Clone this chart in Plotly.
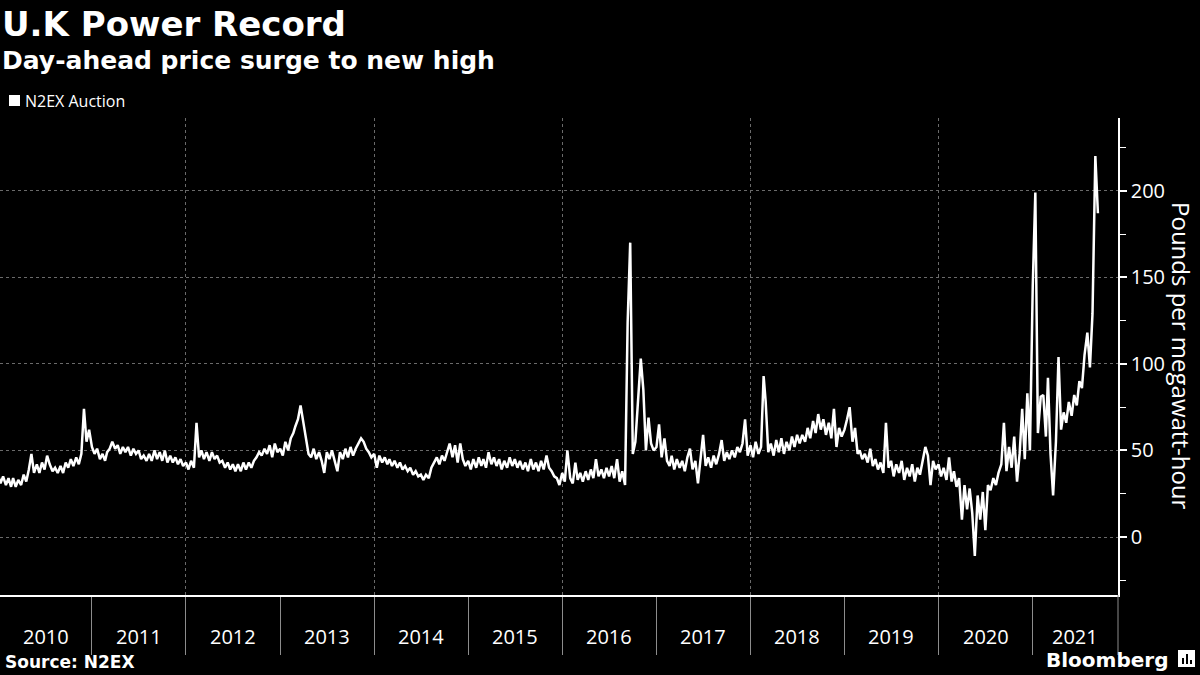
import plotly.graph_objects as go
import pandas as pd

# ---- data: N2EX day-ahead auction, GBP/MWh, sampled on the 1st, 11th, 21st of each month ----
years = [2010, 2011, 2012, 2013, 2014, 2015, 2016, 2017, 2018, 2019, 2020, 2021]

v2010 = [36, 31, 35, 30, 34, 29, 34, 29, 33, 30, 36, 32, 39, 48, 37, 42, 37, 43,
         39, 47, 42, 38, 40, 37, 41, 37, 43, 40, 45, 41, 46, 42, 48, 74, 55, 62]
v2011 = [52, 48, 51, 45, 48, 44, 49, 51, 55, 51, 53, 48, 52, 49, 52, 47, 51, 48,
         50, 45, 47, 44, 48, 44, 50, 45, 49, 44, 50, 43, 47, 43, 46, 42, 45, 41]
v2012 = [43, 39, 44, 40, 66, 46, 50, 45, 49, 44, 49, 45, 47, 43, 44, 40, 43, 39,
         42, 38, 42, 38, 43, 39, 43, 40, 44, 46, 49, 47, 51, 48, 53, 46, 54, 49]
v2013 = [51, 47, 55, 50, 57, 60, 64, 68, 76, 66, 57, 48, 46, 51, 45, 49, 44, 37,
         49, 45, 50, 43, 38, 49, 45, 51, 46, 52, 47, 51, 54, 57, 55, 51, 49, 46]
v2014 = [48, 40, 47, 43, 46, 42, 45, 41, 44, 40, 43, 39, 41, 38, 40, 36, 38, 35,
         36, 33, 36, 34, 40, 43, 46, 42, 47, 44, 49, 54, 46, 53, 43, 54, 45, 41]
v2015 = [44, 39, 45, 40, 46, 41, 45, 40, 49, 42, 46, 41, 45, 39, 44, 40, 46, 41,
         45, 40, 44, 39, 43, 38, 45, 39, 43, 38, 44, 39, 47, 40, 38, 35, 34, 30]
v2016 = [37, 32, 50, 34, 31, 43, 33, 37, 32, 38, 33, 39, 34, 45, 35, 39, 34, 40,
         35, 41, 34, 45, 32, 38, 30, 124, 170, 48, 55, 79, 103, 85, 50, 69, 54, 50]
v2017 = [52, 65, 46, 57, 44, 41, 47, 39, 45, 40, 44, 38, 46, 51, 39, 44, 31, 45,
         59, 41, 46, 40, 47, 42, 48, 56, 44, 49, 45, 50, 46, 52, 49, 54, 68, 47]
v2018 = [53, 46, 55, 48, 52, 93, 78, 49, 54, 47, 56, 49, 57, 48, 55, 50, 58, 52,
         59, 54, 59, 55, 63, 57, 67, 60, 71, 62, 68, 59, 66, 57, 74, 52, 63, 58]
v2019 = [62, 68, 75, 55, 63, 48, 50, 45, 48, 43, 51, 41, 45, 39, 43, 37, 66, 40,
         44, 35, 42, 37, 44, 33, 40, 35, 42, 32, 40, 36, 45, 52, 47, 30, 44, 39]
v2020 = [42, 35, 40, 33, 46, 32, 38, 29, 34, 10, 30, 16, 28, 14, -11, 24, 10, 26,
         4, 30, 27, 34, 30, 37, 42, 66, 38, 52, 40, 58, 32, 48, 74, 45, 83, 50]
v2021 = [145, 199, 60, 81, 82, 58, 92, 48, 24, 55, 104, 62, 72, 66, 78, 70, 82, 76,
         90, 86, 105, 118, 98, 129, 220, 187]

series_by_year = dict(zip(years, [v2010, v2011, v2012, v2013, v2014, v2015,
                                  v2016, v2017, v2018, v2019, v2020, v2021]))
sample_days = [1, 11, 21]
year_labels = [str(y) for y in years]
x_range = ["2010-01-09", "2021-11-28"]
y_ticks = [0, 50, 100, 150, 200]
y_minor = [-25, 25, 75, 125, 175, 225]
y_range = [-33.5, 242]

dates, prices = [], []
for y in years:
    for i, v in enumerate(series_by_year[y]):
        dates.append(pd.Timestamp(y, i // 3 + 1, sample_days[i % 3]))
        prices.append(v)

# ---- geometry helpers (pixels -> paper) ----
W, H = 1200, 675
ML, MR, MT, MB = 0, 82, 118, 80
PW, PH = W - ML - MR, H - MT - MB


def px(x):
    return (x - ML) / PW


def py(y):
    return (H - MB - y) / PH


fig = go.Figure()
fig.add_trace(go.Scatter(x=dates, y=prices, mode="lines",
                         line=dict(color="white", width=2.5),
                         name="N2EX Auction", showlegend=False,
                         hovertemplate="%{x|%d %b %Y}: %{y}<extra></extra>"))

year_starts = [pd.Timestamp(y, 1, 1) for y in years]
grid_vals = [d for d in year_starts if d.year % 2 == 0 and d > pd.Timestamp(x_range[0])]
sep_vals = [d for d in year_starts if d > pd.Timestamp(x_range[0])]

annotations = []
r0, r1 = pd.Timestamp(x_range[0]), pd.Timestamp(x_range[1])
for y, lab in zip(years, year_labels):
    s = max(pd.Timestamp(y, 1, 1), r0)
    e = min(pd.Timestamp(y + 1, 1, 1), r1)
    mid = s + (e - s) / 2
    annotations.append(dict(x=mid, xref="x", y=py(636), yref="paper", text=lab,
                            showarrow=False, xanchor="center", yanchor="middle",
                            font=dict(family="Open Sans", size=20, color="white")))

annotations += [
    dict(x=px(0), y=py(24), xref="paper", yref="paper", text="<b>U.K Power Record</b>",
         showarrow=False, xanchor="left", yanchor="middle",
         font=dict(family="DejaVu Sans", size=34, color="white")),
    dict(x=px(0), y=py(60), xref="paper", yref="paper",
         text="<b>Day-ahead price surge to new high</b>",
         showarrow=False, xanchor="left", yanchor="middle",
         font=dict(family="DejaVu Sans", size=25, color="white")),
    dict(x=px(23), y=py(101), xref="paper", yref="paper", text="N2EX Auction",
         showarrow=False, xanchor="left", yanchor="middle",
         font=dict(family="Open Sans", size=16, color="white")),
    dict(x=px(1182), y=py(356), xref="paper", yref="paper",
         text="Pounds per megawatt-hour", textangle=90,
         showarrow=False, xanchor="center", yanchor="middle",
         font=dict(family="Open Sans", size=24, color="white")),
    dict(x=px(3), y=py(662), xref="paper", yref="paper", text="<b>Source: N2EX</b>",
         showarrow=False, xanchor="left", yanchor="middle",
         font=dict(family="DejaVu Sans", size=17, color="white")),
    dict(x=px(1170), y=py(660), xref="paper", yref="paper", text="<b>Bloomberg</b>",
         showarrow=False, xanchor="right", yanchor="middle",
         font=dict(family="DejaVu Sans", size=20, color="white")),
]

shapes = [
    # legend swatch
    dict(type="rect", xref="paper", yref="paper", x0=px(9), x1=px(20), y0=py(106), y1=py(95),
         fillcolor="white", line=dict(width=0)),
    # separator at right end of x axis
    dict(type="line", xref="paper", yref="paper", x0=1, x1=1, y0=0, y1=py(655),
         line=dict(color="#8c8c8c", width=1)),
    # Bloomberg icon
    dict(type="rect", xref="paper", yref="paper", x0=px(1178), x1=px(1195), y0=py(667), y1=py(650),
         fillcolor="white", line=dict(width=0)),
    dict(type="rect", xref="paper", yref="paper", x0=px(1182), x1=px(1184), y0=py(664), y1=py(658),
         fillcolor="black", line=dict(width=0)),
    dict(type="rect", xref="paper", yref="paper", x0=px(1186), x1=px(1188), y0=py(664), y1=py(654),
         fillcolor="black", line=dict(width=0)),
    dict(type="rect", xref="paper", yref="paper", x0=px(1190), x1=px(1192), y0=py(664), y1=py(660),
         fillcolor="black", line=dict(width=0)),
]

fig.update_layout(
    width=W, height=H,
    margin=dict(l=ML, r=MR, t=MT, b=MB),
    paper_bgcolor="black", plot_bgcolor="black",
    showlegend=False,
    annotations=annotations, shapes=shapes,
    xaxis=dict(type="date", range=x_range, showline=True, linecolor="white", linewidth=1.5,
               tickvals=grid_vals, ticks="outside", ticklen=58, tickcolor="#8c8c8c", tickwidth=1,
               showticklabels=False, showgrid=True, gridcolor="#6a6a6a", griddash="dot",
               gridwidth=1, zeroline=False,
               minor=dict(tickvals=sep_vals, ticks="outside", ticklen=58, tickcolor="#8c8c8c",
                          tickwidth=1, showgrid=False)),
    yaxis=dict(side="right", range=y_range, tickvals=y_ticks, ticks="outside", ticklen=7,
               tickcolor="white", tickwidth=1.5, showline=True, linecolor="white", linewidth=1.5,
               showgrid=True, gridcolor="#6a6a6a", griddash="dot", gridwidth=1, zeroline=False,
               tickfont=dict(family="Open Sans", size=20, color="white"),
               minor=dict(tickvals=y_minor, ticks="outside", ticklen=6, tickcolor="white",
                          tickwidth=1, showgrid=False)),
)

fig.write_html("out.html", config={"displayModeBar": False},
               post_script="document.body.style.margin='0';document.body.style.background='black';")
